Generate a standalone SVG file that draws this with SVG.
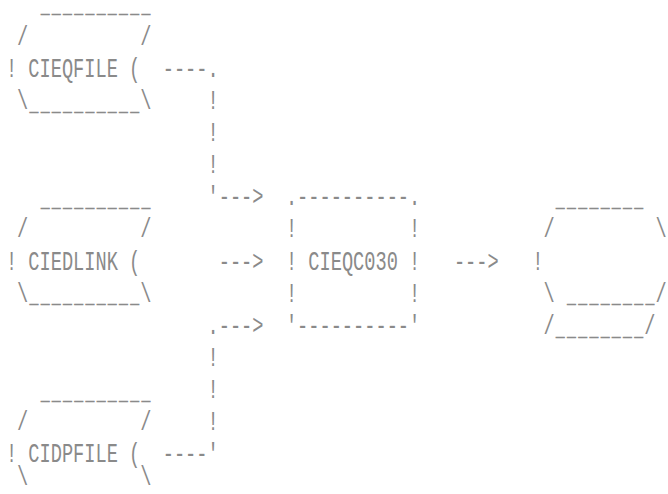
<svg xmlns="http://www.w3.org/2000/svg" width="668" height="494" viewBox="0 0 668 494">
<style>
.t { font-family: "Liberation Mono", "DejaVu Sans Mono", monospace; font-size: 18.667px; fill: #8a8a8a; }
.u { font-family: "Liberation Mono", "DejaVu Sans Mono", monospace; font-size: 14px; letter-spacing: 2.8px; fill: #8a8a8a; stroke: #8a8a8a; stroke-width: 0.8; }
.e { letter-spacing: 0px; }
</style>
<rect width="668" height="494" fill="#ffffff"/>
<g id="cieqfile">
<text class="u" x="40.9" y="13">_________<tspan class="e">_</tspan></text>
<text class="u" x="29.7" y="110.8">_________<tspan class="e">_</tspan></text>
<g transform="scale(1,1.5)">
<text class="t" x="17.1" y="29.93">/</text>
<text class="t" x="140.3" y="29.93">/</text>
<text class="t" x="5.9" y="51.33">!</text>
<text class="t" x="28.3" y="51.33">CIEQFILE</text>
<text class="t" x="129.1" y="51.33">(</text>
<text class="t" x="17.1" y="72.73">\</text>
<text class="t" x="140.3" y="72.73">\</text>
</g>
</g>
<g id="ciedlink">
<text class="u" x="40.9" y="207.1">_________<tspan class="e">_</tspan></text>
<text class="u" x="29.7" y="303.4">_________<tspan class="e">_</tspan></text>
<g transform="scale(1,1.5)">
<text class="t" x="17.1" y="158.33">/</text>
<text class="t" x="140.3" y="158.33">/</text>
<text class="t" x="5.9" y="179.73">!</text>
<text class="t" x="28.3" y="179.73">CIEDLINK</text>
<text class="t" x="129.1" y="179.73">(</text>
<text class="t" x="17.1" y="201.13">\</text>
<text class="t" x="140.3" y="201.13">\</text>
</g>
</g>
<g id="cidpfile">
<text class="u" x="40.9" y="399.7">_________<tspan class="e">_</tspan></text>
<g transform="scale(1,1.5)">
<text class="t" x="17.1" y="286.73">/</text>
<text class="t" x="140.3" y="286.73">/</text>
<text class="t" x="5.9" y="308.13">!</text>
<text class="t" x="28.3" y="308.13">CIDPFILE</text>
<text class="t" x="129.1" y="308.13">(</text>
<text class="t" x="17.1" y="323.67">\</text>
<text class="t" x="140.3" y="323.67">\</text>
</g>
</g>
<g id="cieqc030">
<g transform="scale(1,1.5)">
<text class="t" x="285.9" y="136.93">.----------.</text>
<text class="t" x="285.9" y="158.33">!</text>
<text class="t" x="409.1" y="158.33">!</text>
<text class="t" x="285.9" y="179.73">!</text>
<text class="t" x="308.3" y="179.73">CIEQC030</text>
<text class="t" x="409.1" y="179.73">!</text>
<text class="t" x="285.9" y="201.13">!</text>
<text class="t" x="409.1" y="201.13">!</text>
<text class="t" x="285.9" y="222.53">'----------'</text>
</g>
</g>
<g id="output">
<text class="u" x="556.1" y="207.1">_______<tspan class="e">_</tspan></text>
<text class="u" x="567.3" y="303.4">_______<tspan class="e">_</tspan></text>
<text class="u" x="556.1" y="335.5">_______<tspan class="e">_</tspan></text>
<g transform="scale(1,1.5)">
<text class="t" x="543.5" y="158.33">/</text>
<text class="t" x="655.5" y="158.33">\</text>
<text class="t" x="532.3" y="179.73">!</text>
<text class="t" x="543.5" y="201.13">\</text>
<text class="t" x="655.5" y="201.13">/</text>
<text class="t" x="543.5" y="222.53">/</text>
<text class="t" x="644.3" y="222.53">/</text>
</g>
</g>
<g id="connectors">
<g transform="scale(1,1.5)">
<text class="t" x="162.7" y="51.33">----.</text>
<text class="t" x="207.5" y="72.73">!</text>
<text class="t" x="207.5" y="94.13">!</text>
<text class="t" x="207.5" y="115.53">!</text>
<text class="t" x="207.5" y="136.93">'---&gt;</text>
<text class="t" x="218.7" y="179.73">---&gt;</text>
<text class="t" x="207.5" y="222.53">.---&gt;</text>
<text class="t" x="207.5" y="243.93">!</text>
<text class="t" x="207.5" y="265.33">!</text>
<text class="t" x="207.5" y="286.73">!</text>
<text class="t" x="162.7" y="308.13">----'</text>
<text class="t" x="453.9" y="179.73">---&gt;</text>
</g>
</g>
</svg>
